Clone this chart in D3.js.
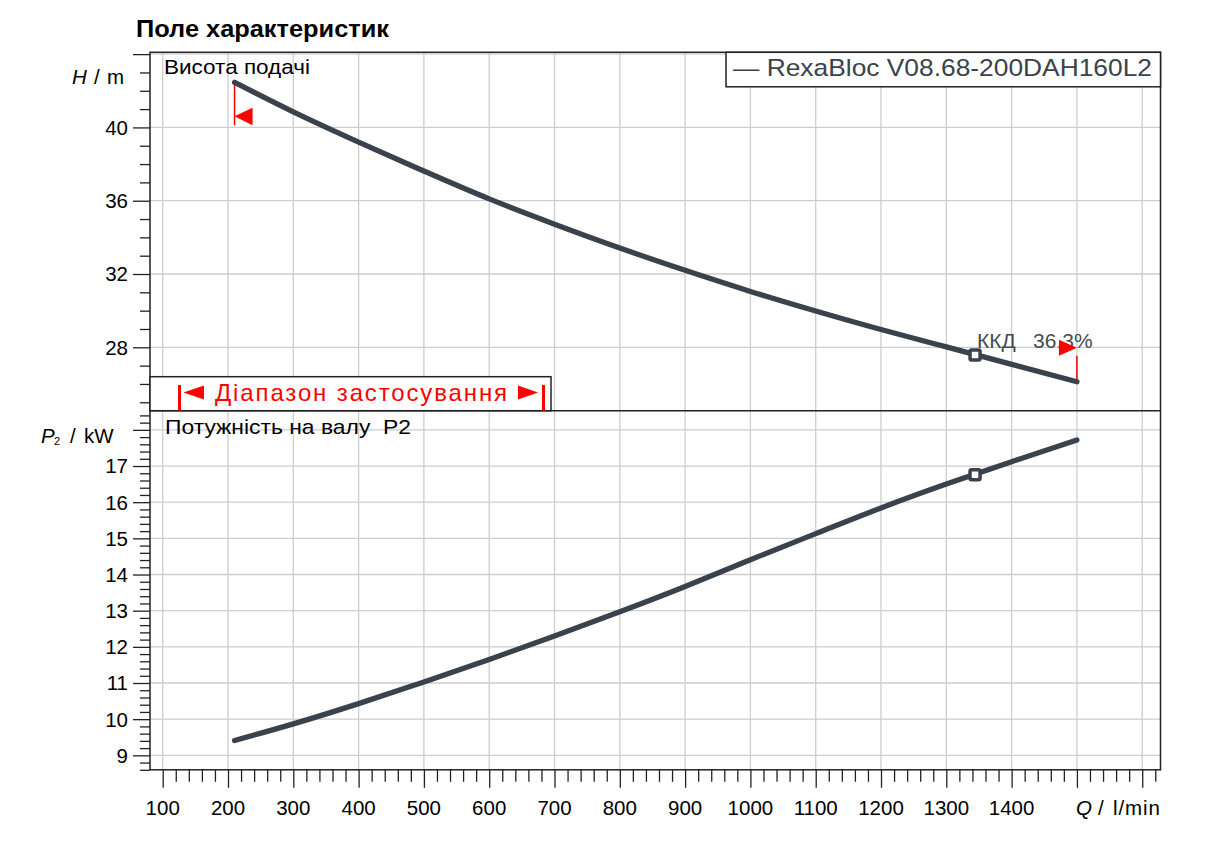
<!DOCTYPE html>
<html><head><meta charset="utf-8">
<script src="https://cdn.jsdelivr.net/npm/d3@7"></script>
<style>
body{margin:0;background:#fff;}
svg{display:block;font-family:"Liberation Sans",Arial,sans-serif;}
</style>
</head><body>
<svg id="chart" width="1212" height="850"></svg>
<script>
// ---------------- data ----------------
const chartTitle = "Поле характеристик";
const legendLabel = "— RexaBloc V08.68-200DAH160L2";
const headTitle = "Висота подачі";
const powerTitle = "Потужність на валу  P2";
const rangeLabel = "Діапазон застосування";
const effName = "ККД";
const effValue = "36.3%";

const flow  = [210, 300, 400, 500, 600, 700, 800, 900, 1000, 1100, 1200, 1300, 1400, 1500];
const head  = [42.46, 40.85, 39.2, 37.62, 36.1, 34.72, 33.42, 32.2, 31.05, 29.98, 28.97, 28.02, 27.07, 26.12];
const power = [9.41, 9.87, 10.43, 11.03, 11.65, 12.30, 12.97, 13.67, 14.41, 15.13, 15.84, 16.50, 17.12, 17.72];

const dutyFlow = [1344];
const dutyHead = [27.58];
const dutyPower = [16.76];

const xMajorTicks = [100,200,300,400,500,600,700,800,900,1000,1100,1200,1300,1400,1500,1600];
const xTickLabels = [100,200,300,400,500,600,700,800,900,1000,1100,1200,1300,1400];
const hMajorTicks = [28,32,36,40,44];
const hTickLabels = [28,32,36,40];
const pMajorTicks = [9,10,11,12,13,14,15,16,17,18];
const pTickLabels = [9,10,11,12,13,14,15,16,17];

// ---------------- layout ----------------
const L = 150, R = 1160.5, T = 52.3, MID = 410.7, B = 769.8;
const curveColor = "#39424d";
const axisColor = "#222";
const gridColor = "#cdcdcd";
const tickFont = 20.5;

const x = d3.scaleLinear().domain([80.55, 1628]).range([L, R]);
const yH = d3.scaleLinear().domain([24.54, 44.1]).range([MID, T]);
const yP = d3.scaleLinear().domain([8.6, 18.53]).range([B, MID]);

const svg = d3.select("#chart");

// minor tick arrays
const xMinor = d3.range(100, 1621, 20).filter(v => v % 100 !== 0);
const hMinor = d3.range(25, 45, 1).filter(v => v % 4 !== 0);
const pMinor = d3.range(8.6, 18.5, 0.2).map(v => +v.toFixed(1)).filter(v => Math.abs(v - Math.round(v)) > 1e-6);

// ---------------- grid ----------------
const grid = svg.append("g").attr("stroke", gridColor).attr("stroke-width", 1.3);
grid.selectAll("line.v").data(xMajorTicks).join("line")
  .attr("x1", d => x(d)).attr("x2", d => x(d)).attr("y1", T).attr("y2", B);
grid.selectAll("line.h").data(hMajorTicks).join("line")
  .attr("x1", L).attr("x2", R).attr("y1", d => yH(d)).attr("y2", d => yH(d));
grid.selectAll("line.p").data(pMajorTicks).join("line")
  .attr("x1", L).attr("x2", R).attr("y1", d => yP(d)).attr("y2", d => yP(d));

// ---------------- axes (ticks) ----------------
function styleAxis(g){
  g.select(".domain").remove();
  g.selectAll(".tick line").attr("stroke", axisColor).attr("stroke-width", 1.3);
  g.selectAll(".tick text").remove();
}
svg.append("g").attr("transform", `translate(${L},0)`)
  .call(d3.axisLeft(yH).tickValues(hMajorTicks).tickSize(17).tickFormat("")).call(styleAxis);
svg.append("g").attr("transform", `translate(${L},0)`)
  .call(d3.axisLeft(yH).tickValues(hMinor).tickSize(10).tickFormat("")).call(styleAxis);
svg.append("g").attr("transform", `translate(${L},0)`)
  .call(d3.axisLeft(yP).tickValues(pMajorTicks).tickSize(17).tickFormat("")).call(styleAxis);
svg.append("g").attr("transform", `translate(${L},0)`)
  .call(d3.axisLeft(yP).tickValues(pMinor).tickSize(10).tickFormat("")).call(styleAxis);
svg.append("g").attr("transform", `translate(0,${B})`)
  .call(d3.axisBottom(x).tickValues(xMajorTicks).tickSize(18).tickFormat("")).call(styleAxis);
svg.append("g").attr("transform", `translate(0,${B})`)
  .call(d3.axisBottom(x).tickValues(xMinor).tickSize(12).tickFormat("")).call(styleAxis);

// tick labels
const lab = svg.append("g").attr("font-size", tickFont).attr("fill", "#000");
lab.selectAll("text.h").data(hTickLabels).join("text")
  .attr("x", 128).attr("y", d => yH(d)).attr("dy", "0.36em").attr("text-anchor", "end").text(d => d);
lab.selectAll("text.p").data(pTickLabels).join("text")
  .attr("x", 128).attr("y", d => yP(d)).attr("dy", "0.36em").attr("text-anchor", "end").text(d => d);
lab.selectAll("text.x").data(xTickLabels).join("text")
  .attr("x", d => x(d)).attr("y", 815).attr("text-anchor", "middle").text(d => d);

// axis titles
const hT = lab.append("text").attr("y", 84);
hT.append("tspan").attr("x", 72).attr("font-style", "italic").text("H");
hT.append("tspan").attr("x", 94).text("/");
hT.append("tspan").attr("x", 107).text("m");
const pT = lab.append("text").attr("y", 443);
pT.append("tspan").attr("x", 41).attr("font-style", "italic").text("P");
pT.append("tspan").attr("x", 54).attr("dy", 2).attr("font-size", 11).text("2");
pT.append("tspan").attr("x", 70).attr("dy", -2).text("/");
pT.append("tspan").attr("x", 84).text("kW");
const qT = lab.append("text").attr("y", 815);
qT.append("tspan").attr("x", 1076).attr("font-style", "italic").text("Q");
qT.append("tspan").attr("x", 1098).text("/");
qT.append("tspan").attr("x", 1113).attr("textLength", 47).text("l/min");

// ---------------- frame ----------------
svg.append("rect").attr("x", L).attr("y", T).attr("width", R - L).attr("height", B - T)
  .attr("fill", "none").attr("stroke", axisColor).attr("stroke-width", 1.5);
svg.append("line").attr("x1", L).attr("x2", R).attr("y1", MID).attr("y2", MID)
  .attr("stroke", axisColor).attr("stroke-width", 1.5);

// title
svg.append("text").attr("x", 136).attr("y", 37).attr("font-size", 23).attr("font-weight", "bold")
  .attr("fill", "#000").attr("textLength", 253).attr("lengthAdjust", "spacingAndGlyphs").text(chartTitle);

// legend
svg.append("rect").attr("x", 726).attr("y", T).attr("width", R - 726).attr("height", 34.5)
  .attr("fill", "#fff").attr("stroke", axisColor).attr("stroke-width", 1.5);
svg.append("text").attr("x", 733).attr("y", 76).attr("font-size", 24).attr("fill", "#3a424b")
  .attr("textLength", 419).attr("lengthAdjust", "spacingAndGlyphs").text(legendLabel);

// panel titles
svg.append("text").attr("x", 164).attr("y", 74).attr("font-size", 21).attr("fill", "#000")
  .attr("textLength", 146).attr("lengthAdjust", "spacingAndGlyphs").text(headTitle);
svg.append("text").attr("x", 165).attr("y", 434).attr("font-size", 21).attr("fill", "#000")
  .style("white-space", "pre").attr("textLength", 246).attr("lengthAdjust", "spacingAndGlyphs").text(powerTitle);

// ---------------- curves ----------------
const headPts = flow.map((q, i) => [q, head[i]]);
const powerPts = flow.map((q, i) => [q, power[i]]);
const lineH = d3.line().x(d => x(d[0])).y(d => yH(d[1])).curve(d3.curveNatural);
const lineP = d3.line().x(d => x(d[0])).y(d => yP(d[1])).curve(d3.curveNatural);

// red range markers on head curve
const red = "#ff0000";
const q0 = flow[0], h0 = head[0], q1 = flow[flow.length-1], h1 = head[head.length-1];
svg.append("line").attr("x1", x(q0)).attr("x2", x(q0)).attr("y1", yH(h0)).attr("y2", yH(h0) + 43)
  .attr("stroke", red).attr("stroke-width", 1.5);
svg.append("path").attr("fill", red)
  .attr("d", `M${x(q0)},${yH(h0)+34}L${x(q0)+18},${yH(h0)+25.5}L${x(q0)+18},${yH(h0)+43}Z`);
svg.append("line").attr("x1", x(q1)).attr("x2", x(q1)).attr("y1", yH(h1)).attr("y2", yH(h1) - 26)
  .attr("stroke", red).attr("stroke-width", 1.5);

svg.append("path").datum(headPts).attr("d", lineH).attr("fill", "none")
  .attr("stroke", curveColor).attr("stroke-width", 5.3).attr("stroke-linecap", "round");
svg.append("path").datum(powerPts).attr("d", lineP).attr("fill", "none")
  .attr("stroke", curveColor).attr("stroke-width", 5.3).attr("stroke-linecap", "round");

// duty point markers
function dutyMarker(cx, cy){
  svg.append("rect").attr("x", cx - 5).attr("y", cy - 5).attr("width", 10).attr("height", 10)
    .attr("rx", 1.5).attr("fill", "#fff").attr("stroke", curveColor).attr("stroke-width", 3.5);
}
dutyFlow.forEach((q, i) => { dutyMarker(x(q), yH(dutyHead[i])); dutyMarker(x(q), yP(dutyPower[i])); });

// efficiency label
svg.append("text").attr("x", x(dutyFlow[0]) + 2).attr("y", 348).attr("font-size", 21)
  .attr("fill", "#444c55").text(effName);
svg.append("text").attr("x", x(dutyFlow[0]) + 58).attr("y", 348).attr("font-size", 21)
  .attr("fill", "#444c55").text(effValue);
svg.append("path").attr("fill", red)
  .attr("d", `M${x(q1)},${yH(h1)-34}L${x(q1)-18},${yH(h1)-42}L${x(q1)-18},${yH(h1)-26}Z`);

// ---------------- range box ----------------
const rb = svg.append("g");
rb.append("rect").attr("x", L).attr("y", 376.7).attr("width", 551 - L).attr("height", MID - 376.7)
  .attr("fill", "#fff").attr("stroke", axisColor).attr("stroke-width", 1.5);
rb.append("rect").attr("x", 178).attr("y", 385).attr("width", 3).attr("height", MID - 385).attr("fill", red);
rb.append("rect").attr("x", 542).attr("y", 385).attr("width", 3).attr("height", MID - 385).attr("fill", red);
rb.append("path").attr("fill", red).attr("d", "M183.5,392.5L204,385.5L204,399.5Z");
rb.append("path").attr("fill", red).attr("d", "M538,392.5L518,385.5L518,399.5Z");
rb.append("text").attr("x", 215).attr("y", 400.7).attr("font-size", 24).attr("fill", red)
  .attr("textLength", 292).attr("lengthAdjust", "spacing").text(rangeLabel);
</script>
</body></html>
